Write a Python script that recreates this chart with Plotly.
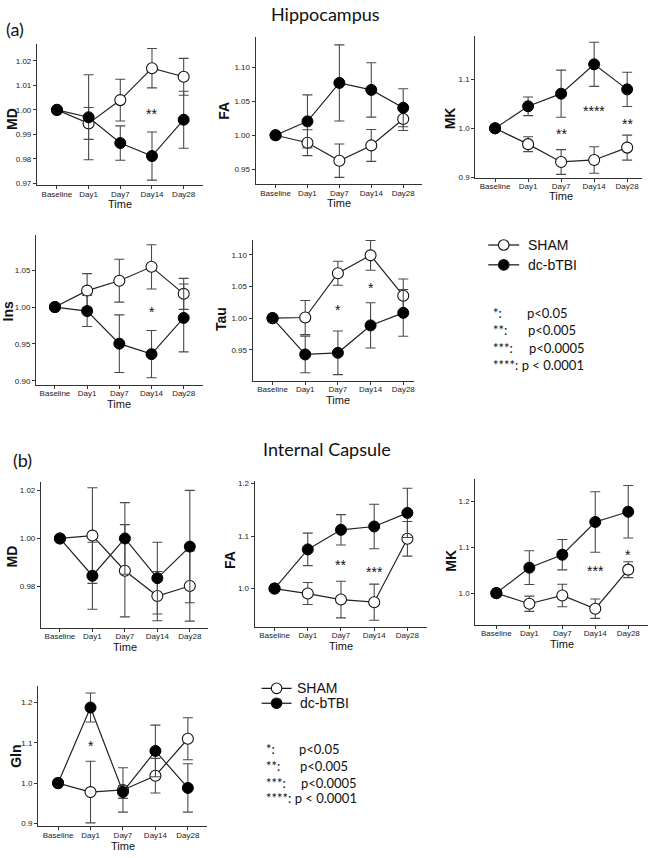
import plotly.graph_objects as go

W, H = 651, 858
days = ["Baseline", "Day1", "Day7", "Day14", "Day28"]

# ---------------- Hippocampus ----------------
hc_md_sham = [1.0, 0.9945, 1.004, 1.017, 1.0135]
hc_md_sham_err = [0, 0.0065, 0.0085, 0.008, 0.0075]
hc_md_tbi = [1.0, 0.997, 0.9865, 0.9812, 0.996]
hc_md_tbi_err = [0, 0.0173, 0.007, 0.0098, 0.0116]

hc_fa_sham = [1.0, 0.989, 0.9625, 0.985, 1.024]
hc_fa_sham_err = [0, 0.019, 0.0245, 0.0235, 0.017]
hc_fa_tbi = [1.0, 1.0204, 1.077, 1.0667, 1.0404]
hc_fa_tbi_err = [0, 0.039, 0.056, 0.04, 0.028]

hc_mk_sham = [1.0, 0.9677, 0.9313, 0.9354, 0.9606]
hc_mk_sham_err = [0, 0.0152, 0.0253, 0.027, 0.0256]
hc_mk_tbi = [1.0, 1.045, 1.0707, 1.1306, 1.0795]
hc_mk_tbi_err = [0, 0.019, 0.048, 0.045, 0.035]

hc_ins_sham = [1.0, 1.0223, 1.0357, 1.0545, 1.0179]
hc_ins_sham_err = [0, 0.023, 0.029, 0.03, 0.021]
hc_ins_tbi = [1.0, 0.9946, 0.9504, 0.9362, 0.9853]
hc_ins_tbi_err = [0, 0.021, 0.039, 0.032, 0.046]

hc_tau_sham = [1.0, 1.001, 1.071, 1.0993, 1.0355]
hc_tau_sham_err = [0, 0.027, 0.019, 0.0235, 0.0265]
hc_tau_tbi = [1.0, 0.9426, 0.9452, 0.9885, 1.0084]
hc_tau_tbi_err = [0, 0.029, 0.0345, 0.0358, 0.037]

# ---------------- Internal Capsule ----------------
ic_md_sham = [1.0, 1.0012, 0.9865, 0.9759, 0.9801]
ic_md_sham_err = [0, 0.02, 0.0193, 0.0103, 0.0147]
ic_md_tbi = [1.0, 0.9844, 1.0, 0.9834, 0.9966]
ic_md_tbi_err = [0, 0.014, 0.015, 0.015, 0.0235]

ic_fa_sham = [1.0, 0.9905, 0.9791, 0.974, 1.0949]
ic_fa_sham_err = [0, 0.021, 0.035, 0.0345, 0.033]
ic_fa_tbi = [1.0, 1.0747, 1.112, 1.1184, 1.1443]
ic_fa_tbi_err = [0, 0.031, 0.029, 0.0425, 0.047]

ic_mk_sham = [1.0, 0.977, 0.995, 0.9662, 1.0511]
ic_mk_sham_err = [0, 0.0166, 0.0245, 0.021, 0.0173]
ic_mk_tbi = [1.0, 1.0554, 1.0835, 1.1547, 1.177]
ic_mk_tbi_err = [0, 0.0367, 0.033, 0.0658, 0.057]

ic_gln_sham = [1.0, 0.9777, 0.983, 1.0184, 1.11]
ic_gln_sham_err = [0, 0.0765, 0.055, 0.043, 0.052]
ic_gln_tbi = [1.0, 1.1875, 0.978, 1.0798, 0.988]
ic_gln_tbi_err = [0, 0.036, 0.016, 0.064, 0.06]

# significance marks: (day, value, text)
hc_md_stars = [("Day14", 0.9995, "**")]
hc_mk_stars = [("Day7", 0.995, "**"), ("Day14", 1.041, "****"), ("Day28", 1.0155, "**")]
hc_ins_stars = [("Day14", 0.998, "*")]
hc_tau_stars = [("Day7", 1.018, "*"), ("Day14", 1.053, "*")]
ic_fa_stars = [("Day7", 1.0506, "**"), ("Day14", 1.0367, "***")]
ic_mk_stars = [("Day14", 1.054, "***"), ("Day28", 1.09, "*")]
ic_gln_stars = [("Day1", 1.10, "*")]

stat_keys = ["*:", "**:", "***:"]
stat_vals = ["p<0.05", "p<0.005", "p<0.0005"]
stat_last = "****: p < 0.0001"

# panel layout (pixel boxes) and axis settings
panels = [
    dict(lab="MD", s=hc_md_sham, se=hc_md_sham_err, t=hc_md_tbi, te=hc_md_tbi_err, stars=hc_md_stars,
         box=(37, 203, 42, 185), xr=[-0.63, 4.6], yr=[0.9692, 1.027],
         yt=[0.97, 0.98, 0.99, 1.00, 1.01, 1.02], fmt=".2f", ylab=(12, 118), time_y=204),
    dict(lab="FA", s=hc_fa_sham, se=hc_fa_sham_err, t=hc_fa_tbi, te=hc_fa_tbi_err, stars=[],
         box=(256, 423, 35, 184), xr=[-0.625, 4.6], yr=[0.9275, 1.145],
         yt=[0.95, 1.00, 1.05, 1.10], fmt=".2f", ylab=(224, 110), time_y=203),
    dict(lab="MK", s=hc_mk_sham, se=hc_mk_sham_err, t=hc_mk_tbi, te=hc_mk_tbi_err, stars=hc_mk_stars,
         box=(476, 643, 34, 177), xr=[-0.6, 4.45], yr=[0.8995, 1.189],
         yt=[0.9, 1.0, 1.1], fmt=".1f", ylab=(451, 117), time_y=196),
    dict(lab="Ins", s=hc_ins_sham, se=hc_ins_sham_err, t=hc_ins_tbi, te=hc_ins_tbi_err, stars=hc_ins_stars,
         box=(36, 203, 235, 386), xr=[-0.59, 4.59], yr=[0.8946, 1.0975],
         yt=[0.90, 0.95, 1.00, 1.05], fmt=".2f", ylab=(8, 312), time_y=405),
    dict(lab="Tau", s=hc_tau_sham, se=hc_tau_sham_err, t=hc_tau_tbi, te=hc_tau_tbi_err, stars=hc_tau_stars,
         box=(253, 415, 240, 382), xr=[-0.61, 4.34], yr=[0.9008, 1.1235],
         yt=[0.95, 1.00, 1.05, 1.10], fmt=".2f", ylab=(222, 320), time_y=401),
    dict(lab="MD", s=ic_md_sham, se=ic_md_sham_err, t=ic_md_tbi, te=ic_md_tbi_err, stars=[],
         box=(41, 208, 484, 631), xr=[-0.585, 4.55], yr=[0.9626, 1.0236],
         yt=[0.98, 1.00, 1.02], fmt=".2f", ylab=(12, 559), time_y=650),
    dict(lab="FA", s=ic_fa_sham, se=ic_fa_sham_err, t=ic_fa_tbi, te=ic_fa_tbi_err, stars=ic_fa_stars,
         box=(255, 428, 483, 630), xr=[-0.6, 4.6], yr=[0.927, 1.205],
         yt=[1.0, 1.1, 1.2], fmt=".1f", ylab=(231, 563), time_y=649),
    dict(lab="MK", s=ic_mk_sham, se=ic_mk_sham_err, t=ic_mk_tbi, te=ic_mk_tbi_err, stars=ic_mk_stars,
         box=(476, 649, 481, 628), xr=[-0.64, 4.6], yr=[0.931, 1.248],
         yt=[1.0, 1.1, 1.2], fmt=".1f", ylab=(452, 563), time_y=647),
    dict(lab="Gln", s=ic_gln_sham, se=ic_gln_sham_err, t=ic_gln_tbi, te=ic_gln_tbi_err, stars=ic_gln_stars,
         box=(38, 207, 690, 831), xr=[-0.62, 4.58], yr=[0.893, 1.24],
         yt=[0.9, 1.0, 1.1, 1.2], fmt=".1f", ylab=(16, 760), time_y=851),
]

AX_FONT = "Liberation Sans, Arial, sans-serif"
TXT_FONT = "Lato, Carlito, Liberation Sans, sans-serif"


def px(x):
    return x / W


def py(y):
    return 1 - y / H


fig = go.Figure()
annotations = []
shapes = []
layout = {}

for i, p in enumerate(panels):
    n = i + 1
    xa = "x" if n == 1 else f"x{n}"
    ya = "y" if n == 1 else f"y{n}"
    err_style = dict(type="data", visible=True, color="#4a4a4a", thickness=1.1, width=5)
    fig.add_trace(go.Scatter(
        x=days, y=p["s"], xaxis=xa, yaxis=ya, mode="lines+markers", name="SHAM",
        showlegend=False, cliponaxis=False, hoverinfo="skip",
        line=dict(color="#222", width=1.2),
        marker=dict(size=11, color="white", line=dict(color="#111", width=1.1)),
        error_y=dict(array=p["se"], **err_style)))
    fig.add_trace(go.Scatter(
        x=days, y=p["t"], xaxis=xa, yaxis=ya, mode="lines+markers", name="dc-bTBI",
        showlegend=False, cliponaxis=False, hoverinfo="skip",
        line=dict(color="#222", width=1.2),
        marker=dict(size=11, color="#000", line=dict(color="#000", width=1)),
        error_y=dict(array=p["te"], **err_style)))
    L, R, T, B = p["box"]
    key_x = "xaxis" if n == 1 else f"xaxis{n}"
    key_y = "yaxis" if n == 1 else f"yaxis{n}"
    layout[key_x] = dict(
        domain=[px(L), px(R)], anchor=ya, type="category", range=p["xr"],
        showline=True, linecolor="#333", linewidth=1, ticks="outside", ticklen=3,
        tickcolor="#333", showgrid=False, zeroline=False, ticklabeloverflow="allow",
        ticklabelstandoff=-2,
        tickfont=dict(family=AX_FONT, size=8, color="#222"))
    layout[key_y] = dict(
        domain=[py(B), py(T)], anchor=xa, range=p["yr"], tickvals=p["yt"],
        tickformat=p["fmt"], showline=True, linecolor="#333", linewidth=1,
        ticks="outside", ticklen=3, tickcolor="#333", showgrid=False, zeroline=False,
        tickfont=dict(family=AX_FONT, size=8, color="#222"))
    # y label
    annotations.append(dict(
        x=px(p["ylab"][0]), y=py(p["ylab"][1]), xref="paper", yref="paper",
        text=f"<b>{p['lab']}</b>", textangle=-90, showarrow=False,
        font=dict(family=AX_FONT, size=14, color="#111"), xanchor="center", yanchor="middle"))
    # Time label
    annotations.append(dict(
        x=days.index("Day7"), y=py(p["time_y"]), xref=xa, yref="paper",
        text="Time", showarrow=False, font=dict(family=AX_FONT, size=11, color="#111"),
        xanchor="center", yanchor="middle"))
    for d, v, s in p["stars"]:
        annotations.append(dict(
            x=days.index(d), y=v, xref=xa, yref=ya, text=s, showarrow=False,
            font=dict(family=AX_FONT, size=14, color="#111"), yshift=-3,
            xanchor="center", yanchor="middle"))

# Titles and panel letters
annotations += [
    dict(x=px(326), y=py(12), xref="paper", yref="paper", text="Hippocampus", showarrow=False,
         font=dict(family=TXT_FONT, size=18, color="#111"), xanchor="center", yanchor="middle"),
    dict(x=px(328), y=py(451), xref="paper", yref="paper", text="Internal Capsule", showarrow=False,
         font=dict(family=TXT_FONT, size=18, color="#111"), xanchor="center", yanchor="middle"),
    dict(x=px(4), y=py(27), xref="paper", yref="paper", text="(a)", showarrow=False,
         font=dict(family=TXT_FONT, size=18, color="#111"), xanchor="left", yanchor="middle"),
    dict(x=px(11), y=py(462), xref="paper", yref="paper", text="(b)", showarrow=False,
         font=dict(family=TXT_FONT, size=18, color="#111"), xanchor="left", yanchor="middle"),
]


def add_legend(x0, x1, ys, text_x, fsize):
    for (yy, fill, label, tx) in zip(ys, ["white", "black"], ["SHAM", "dc-bTBI"], text_x):
        shapes.append(dict(type="line", xref="paper", yref="paper", x0=px(x0), x1=px(x1),
                           y0=py(yy), y1=py(yy), line=dict(color="#111", width=1.2)))
        cx = (x0 + x1) / 2
        shapes.append(dict(type="circle", xref="paper", yref="paper", xsizemode="pixel",
                           ysizemode="pixel", xanchor=px(cx), yanchor=py(yy),
                           x0=-5.3, x1=5.3, y0=-5.3, y1=5.3, fillcolor=fill,
                           line=dict(color="#111", width=1.1)))
        annotations.append(dict(x=px(tx), y=py(yy), xref="paper", yref="paper", text=label,
                                showarrow=False, xanchor="left", yanchor="middle",
                                font=dict(family=AX_FONT, size=fsize, color="#111")))


def add_stats(kx, vx, ys, fsize):
    for k, v, yy, vxx in zip(stat_keys, stat_vals, ys, vx):
        annotations.append(dict(x=px(kx), y=py(yy), xref="paper", yref="paper", text=k,
                                showarrow=False, xanchor="left", yanchor="middle",
                                font=dict(family=TXT_FONT, size=fsize, color="#111")))
        annotations.append(dict(x=px(vxx), y=py(yy), xref="paper", yref="paper", text=v,
                                showarrow=False, xanchor="left", yanchor="middle",
                                font=dict(family=TXT_FONT, size=fsize, color="#111")))
    annotations.append(dict(x=px(kx), y=py(ys[3]), xref="paper", yref="paper", text=stat_last,
                            showarrow=False, xanchor="left", yanchor="middle",
                            font=dict(family=TXT_FONT, size=fsize, color="#111")))


add_legend(489, 520, [245, 265], [527, 527], 14)
add_stats(492, [526, 527, 528], [314, 331, 349, 366], 13)
add_legend(262, 292, [692, 707], [295, 298], 14)
add_stats(264, [297, 298, 299], [753, 770, 787, 803], 13)

fig.update_layout(
    width=W, height=H, margin=dict(l=0, r=0, t=0, b=0),
    paper_bgcolor="white", plot_bgcolor="white", showlegend=False, hovermode=False,
    annotations=annotations, shapes=shapes, **layout)

fig.write_html(
    "out.html",
    config={"displayModeBar": False, "staticPlot": True},
    post_script="document.body.style.margin='0';document.body.style.padding='0';"
                "document.documentElement.style.overflow='hidden';")
